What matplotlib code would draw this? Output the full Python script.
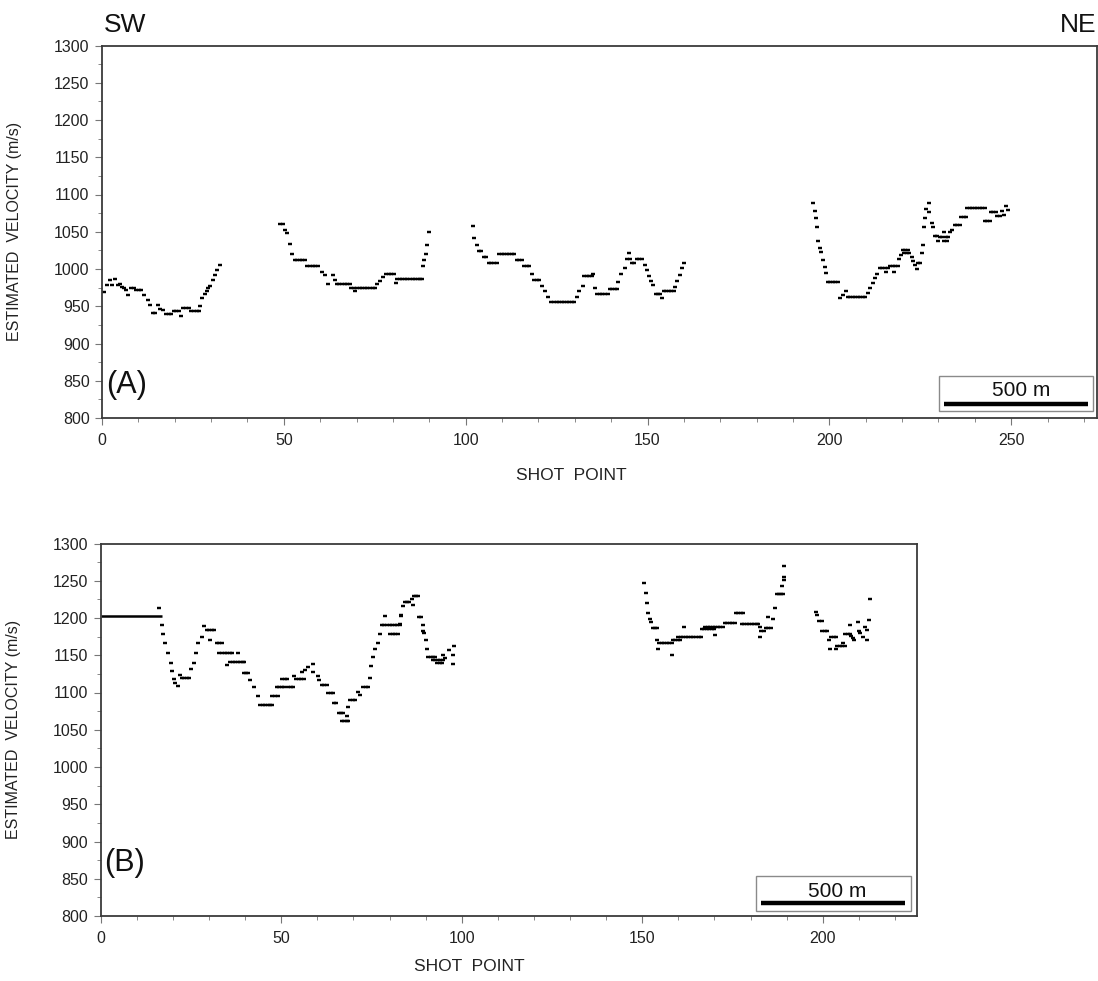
import numpy as np
import matplotlib
matplotlib.use("Agg")
from matplotlib import pyplot as plt
from matplotlib.ticker import MultipleLocator
from matplotlib.patches import Rectangle
import matplotlib.transforms as mtransforms

plt.rcParams['font.family'] = ['Liberation Sans', 'DejaVu Sans']

# ---- data: (shot point, estimated velocity m/s) ----
# panel (A)
seg_a1 = [(0.6, 969), (1.4, 978), (2.2, 985), (2.8, 979), (3.6, 986), (4.3, 979), (5.0, 980),
          (5.4, 976), (6.0, 975), (6.5, 972), (7.2, 965), (8.0, 975), (8.7, 975), (9.4, 972),
          (10.2, 972), (10.8, 972), (11.6, 965), (12.6, 958), (13.2, 952), (13.9, 941),
          (14.6, 941), (15.3, 952), (16.0, 946), (16.8, 945), (17.6, 939), (18.4, 939),
          (19.1, 939), (19.7, 944), (20.4, 944), (21.1, 943), (21.7, 937), (22.4, 948),
          (23.1, 948), (23.8, 948), (24.6, 943), (25.3, 943), (26.0, 943), (26.6, 943),
          (26.9, 950), (27.6, 961), (28.3, 967), (28.8, 970), (29.2, 974), (29.8, 977),
          (30.6, 985), (31.2, 992), (31.7, 999), (32.4, 1005)]
seg_a2 = [(48.9, 1061), (49.7, 1061), (50.3, 1052), (51.0, 1048), (51.7, 1034), (52.3, 1020),
          (53.0, 1012), (53.7, 1012), (54.4, 1012), (55.1, 1012), (55.8, 1012), (56.5, 1004),
          (57.2, 1004), (57.9, 1004), (58.6, 1004), (59.3, 1004), (60.4, 996), (61.3, 992),
          (62.2, 980), (63.5, 992), (64.0, 985), (64.6, 980), (65.3, 980), (66.0, 980),
          (66.7, 980), (67.4, 980), (68.1, 980), (68.6, 975), (69.3, 975), (69.6, 970),
          (70.2, 975), (70.9, 975), (71.6, 975), (72.3, 975), (73.0, 975), (73.7, 975),
          (74.4, 975), (75.0, 975), (75.5, 980), (76.4, 984), (77.3, 989), (78.0, 993),
          (78.8, 993), (79.6, 993), (80.4, 993), (80.8, 981), (81.2, 986), (81.9, 986),
          (82.6, 986), (83.3, 986), (84.0, 986), (84.7, 986), (85.4, 986), (86.1, 986),
          (86.8, 986), (87.5, 986), (88.0, 986), (88.3, 1004), (88.6, 1012), (89.1, 1020),
          (89.4, 1032), (89.8, 1050)]
seg_a3 = [(102.1, 1058), (102.4, 1041), (103.0, 1032), (103.6, 1024), (104.3, 1024),
          (105.0, 1016), (105.7, 1016), (106.4, 1008), (107.1, 1008), (107.8, 1008),
          (108.5, 1008), (109.2, 1020), (109.9, 1020), (110.6, 1020), (111.3, 1020),
          (112.0, 1020), (112.7, 1020), (113.4, 1020), (114.0, 1012), (114.7, 1012),
          (115.4, 1012), (116.1, 1004), (116.8, 1004), (117.5, 1004), (118.3, 993),
          (118.8, 985), (119.5, 985), (120.2, 985), (120.9, 977), (121.8, 970), (122.7, 963),
          (123.6, 956), (124.3, 956), (125.0, 956), (125.7, 956), (126.4, 956), (127.1, 956),
          (127.8, 956), (128.5, 956), (129.2, 956), (129.9, 956), (130.5, 963), (131.3, 970),
          (132.2, 977), (132.6, 990), (133.3, 990), (134.0, 990), (134.7, 990), (135.0, 993),
          (135.5, 975), (136.2, 967), (136.9, 967), (137.6, 967), (138.3, 967), (139.0, 967),
          (139.6, 973), (140.3, 973), (141.0, 973), (141.5, 973), (141.9, 983), (142.8, 993),
          (143.8, 1002), (144.4, 1013), (145.0, 1021), (145.2, 1013), (145.6, 1008),
          (146.3, 1008), (147.0, 1013), (147.7, 1013), (148.4, 1013), (149.3, 1005),
          (149.9, 998), (150.5, 991), (150.9, 984), (151.6, 978), (152.2, 966), (152.9, 966),
          (153.4, 966), (153.9, 961), (154.4, 970), (155.1, 970), (155.8, 970), (156.5, 970),
          (157.2, 970), (157.6, 976), (158.2, 984), (158.9, 992), (159.6, 1001), (160.0, 1008)]
seg_a4 = [(195.6, 1089), (196.0, 1078), (196.3, 1068), (196.5, 1057), (196.9, 1038),
          (197.4, 1028), (197.8, 1023), (198.3, 1012), (198.8, 1003), (199.1, 994),
          (199.5, 982), (200.2, 982), (200.9, 982), (201.6, 982), (202.3, 982), (202.9, 961),
          (203.8, 965), (204.5, 970), (205.0, 962), (205.7, 962), (206.4, 962), (207.1, 962),
          (207.8, 962), (208.5, 962), (209.2, 962), (209.9, 962), (210.7, 968), (211.2, 974),
          (212.1, 981), (212.5, 988), (213.1, 993), (213.9, 1002), (214.6, 1002),
          (215.3, 1002), (215.7, 996), (216.0, 1002), (216.7, 1004), (217.4, 1004),
          (217.7, 996), (218.1, 1004), (218.8, 1004), (219.2, 1013), (219.6, 1019),
          (220.2, 1026), (220.9, 1026), (221.6, 1026), (220.5, 1022), (221.3, 1022),
          (222.0, 1022), (222.6, 1016), (223.0, 1011), (223.5, 1005), (224.0, 1000),
          (224.4, 1008), (225.0, 1008), (225.4, 1021), (225.7, 1032), (226.0, 1056),
          (226.3, 1068), (226.7, 1080), (227.4, 1088), (227.5, 1076), (228.1, 1062),
          (228.6, 1056), (229.0, 1044), (229.6, 1044), (230.0, 1038), (230.4, 1043),
          (231.0, 1043), (231.4, 1038), (231.5, 1049), (232.0, 1043), (232.7, 1043),
          (232.3, 1038), (233.1, 1049), (233.8, 1053), (234.5, 1059), (235.2, 1059),
          (235.9, 1059), (236.2, 1070), (236.9, 1070), (237.6, 1070), (237.9, 1082),
          (238.6, 1082), (239.3, 1082), (240.0, 1082), (240.7, 1082), (241.4, 1082),
          (242.1, 1082), (242.7, 1082), (242.7, 1065), (243.4, 1065), (244.1, 1065),
          (244.4, 1076), (245.1, 1076), (245.8, 1076), (246.2, 1071), (246.9, 1071),
          (247.4, 1078), (248.0, 1072), (248.6, 1085), (249.0, 1079)]

# panel (B)
flat_b_sp = [0.0, 16.9]
flat_b_vel = [1203, 1203]
seg_b1 = [(16.1, 1214), (16.9, 1190), (17.3, 1178), (17.8, 1166), (18.6, 1153), (19.5, 1139),
          (19.8, 1129), (20.4, 1118), (20.7, 1113), (21.3, 1109), (22.0, 1124), (22.5, 1120),
          (23.2, 1120), (23.9, 1120), (24.5, 1120), (25.0, 1131), (25.9, 1139), (26.3, 1153),
          (27.0, 1166), (28.0, 1174), (28.7, 1189), (29.4, 1184), (30.1, 1184), (30.3, 1170),
          (30.8, 1184), (31.5, 1184), (32.1, 1166), (32.8, 1166), (33.5, 1166), (32.9, 1153),
          (33.6, 1153), (34.3, 1153), (34.9, 1137), (35.0, 1153), (35.7, 1153), (36.3, 1153),
          (35.9, 1141), (36.6, 1141), (37.3, 1141), (38.0, 1153), (38.0, 1141), (38.7, 1141),
          (39.4, 1141), (39.8, 1141), (39.6, 1126), (40.3, 1126), (40.9, 1126), (41.4, 1117),
          (42.5, 1107), (43.7, 1095), (44.2, 1083), (44.9, 1083), (45.6, 1083), (46.3, 1083),
          (47.0, 1083), (47.4, 1083), (47.5, 1095), (48.2, 1095), (49.0, 1095), (48.8, 1107),
          (49.5, 1107), (50.2, 1107), (50.9, 1107), (50.3, 1118), (51.0, 1118), (51.7, 1118),
          (52.0, 1107), (52.7, 1107), (53.4, 1107), (53.6, 1122), (54.1, 1118), (54.8, 1118),
          (55.5, 1118), (56.2, 1118), (55.8, 1127), (56.6, 1130), (57.5, 1134), (58.9, 1138),
          (58.9, 1127), (60.1, 1122), (60.5, 1117), (61.2, 1110), (61.9, 1110), (62.6, 1110),
          (63.0, 1099), (63.7, 1099), (64.4, 1099), (64.6, 1086), (65.3, 1086), (65.9, 1072),
          (66.6, 1072), (67.2, 1072), (66.8, 1062), (67.5, 1062), (68.2, 1062), (68.6, 1062),
          (68.2, 1068), (68.6, 1081), (69.1, 1090), (69.8, 1090), (70.5, 1090), (71.4, 1101),
          (71.9, 1097), (72.7, 1108), (73.4, 1108), (74.1, 1108), (74.6, 1119), (74.9, 1135),
          (75.5, 1147), (76.0, 1158), (76.7, 1167), (77.4, 1179), (77.9, 1191), (78.6, 1191),
          (79.3, 1191), (80.0, 1191), (78.8, 1203), (80.2, 1179), (80.9, 1179), (81.6, 1179),
          (82.3, 1179), (80.7, 1191), (81.4, 1191), (82.1, 1191), (82.8, 1191), (83.2, 1203),
          (83.0, 1192), (83.3, 1204), (83.8, 1216), (84.2, 1222), (84.9, 1222), (85.5, 1222),
          (86.3, 1225), (86.8, 1229), (87.3, 1230), (87.8, 1230), (86.6, 1217), (88.1, 1202),
          (88.7, 1202), (89.2, 1190), (89.4, 1182), (89.6, 1180), (90.1, 1170), (90.4, 1158),
          (90.7, 1147), (91.4, 1147), (92.1, 1147), (92.6, 1147), (92.0, 1144), (92.7, 1144),
          (93.4, 1144), (94.1, 1144), (94.9, 1144), (93.2, 1139), (93.9, 1139), (94.6, 1139),
          (94.9, 1150), (95.5, 1146), (96.6, 1157), (97.5, 1150), (97.7, 1138), (97.9, 1162)]
seg_b2 = [(150.5, 1247), (151.0, 1233), (151.4, 1220), (151.7, 1207), (152.2, 1198),
          (152.5, 1194), (152.9, 1186), (153.6, 1186), (154.2, 1186), (154.2, 1170),
          (154.5, 1158), (154.7, 1166), (155.4, 1166), (156.1, 1166), (156.8, 1166),
          (157.5, 1166), (158.2, 1166), (158.2, 1150), (158.4, 1170), (159.1, 1170),
          (159.8, 1170), (160.5, 1170), (160.0, 1174), (160.7, 1174), (161.4, 1174),
          (161.7, 1188), (162.1, 1174), (162.8, 1174), (163.5, 1174), (164.2, 1174),
          (164.9, 1174), (165.6, 1174), (166.3, 1174), (166.5, 1185), (167.2, 1185),
          (167.9, 1185), (168.6, 1185), (169.3, 1185), (170.0, 1185), (170.2, 1177),
          (167.4, 1188), (168.1, 1188), (168.8, 1188), (169.5, 1188), (170.2, 1188),
          (170.9, 1188), (171.6, 1188), (172.3, 1188), (172.9, 1193), (173.6, 1193),
          (174.3, 1193), (175.0, 1193), (175.7, 1193), (175.9, 1207), (176.6, 1207),
          (177.3, 1207), (178.0, 1207), (177.6, 1192), (178.3, 1192), (179.0, 1192),
          (179.7, 1192), (180.4, 1192), (181.1, 1192), (181.8, 1192), (182.2, 1192),
          (182.6, 1188), (182.6, 1174), (183.0, 1182), (183.7, 1182), (184.2, 1186),
          (184.9, 1186), (185.6, 1186), (184.9, 1202), (186.1, 1198), (186.8, 1214),
          (187.2, 1232), (187.8, 1232), (188.4, 1232), (188.9, 1232), (188.6, 1243),
          (189.3, 1255), (189.4, 1251), (189.3, 1270)]
seg_b3 = [(198.1, 1208), (198.4, 1204), (199.0, 1196), (199.7, 1196), (199.9, 1183),
          (200.5, 1183), (201.2, 1183), (201.8, 1170), (202.0, 1158), (202.3, 1175),
          (203.0, 1175), (203.7, 1175), (203.7, 1158), (204.0, 1163), (204.7, 1163),
          (205.4, 1163), (206.1, 1163), (205.7, 1166), (206.3, 1178), (207.0, 1178),
          (207.6, 1178), (207.6, 1191), (207.7, 1176), (208.3, 1173), (208.6, 1170),
          (209.9, 1195), (210.0, 1183), (210.3, 1180), (211.1, 1175), (211.7, 1188),
          (212.2, 1170), (212.4, 1184), (212.9, 1197), (213.1, 1225)]

# 500 m scale bars, in shot points
scale_a = (231.5, 271.1)
scale_b = (182.8, 222.8)

W, H = 1098, 981
fig = plt.figure(figsize=(W / 100, H / 100), dpi=100)

# axes boxes in pixels: left, top, right, bottom
ax_a = fig.add_axes([102 / W, 1 - 418 / H, 995 / W, 372.5 / H])
ax_b = fig.add_axes([100.7 / W, 1 - 916 / H, 816.6 / W, 372.5 / H])

spine_col = '#3a3a3a'


def style_axes(ax, xmax):
    ax.set_xlim(0, xmax)
    ax.set_ylim(800, 1300)
    ax.xaxis.set_major_locator(MultipleLocator(50))
    ax.xaxis.set_minor_locator(MultipleLocator(10))
    ax.yaxis.set_major_locator(MultipleLocator(50))
    ax.yaxis.set_minor_locator(MultipleLocator(25))
    for s in ax.spines.values():
        s.set_color(spine_col)
        s.set_linewidth(1.3)
    ax.tick_params(which='major', direction='out', length=5, width=0.8,
                   color='#777777', labelsize=11.5, labelcolor='#222222')
    ax.tick_params(which='minor', direction='out', length=3, width=0.7, color='#888888')
    ax.tick_params(axis='x', which='major', pad=6)
    ax.tick_params(axis='y', which='major', pad=4)
    ax.set_ylabel('ESTIMATED  VELOCITY (m/s)', fontsize=11.5, color='#222222')
    ax.set_xlabel('SHOT  POINT', fontsize=12.5, color='#222222')


def draw_points(ax, seg):
    # each sample is a short horizontal dash, adjacent samples merge into runs
    arr = np.array(seg)
    ax.plot(arr[:, 0], arr[:, 1], ls='none', marker='_', markersize=2.9,
            markeredgewidth=1.75, color='black')


def scale_box(ax, box, bar_sp, bar_y, text_xy):
    ax.add_patch(Rectangle((box[0], box[1]), box[2] - box[0], box[3] - box[1],
                           transform=ax.transAxes, facecolor='white',
                           edgecolor='#8a8a8a', linewidth=1.0, zorder=4))
    trans = mtransforms.blended_transform_factory(ax.transData, ax.transAxes)
    ax.plot(bar_sp, [bar_y, bar_y], transform=trans, color='black', lw=3.2,
            solid_capstyle='butt', zorder=5)
    ax.text(text_xy[0], text_xy[1], '500 m', transform=ax.transAxes, ha='center',
            va='center', fontsize=15, color='#111111', zorder=6)


# panel A
style_axes(ax_a, 273.6)
for seg in (seg_a1, seg_a2, seg_a3, seg_a4):
    draw_points(ax_a, seg)
ax_a.xaxis.set_label_coords(0.472, -0.135)
ax_a.yaxis.set_label_coords(-0.08, 0.5)
ax_a.text(0.004, 0.089, '(A)', transform=ax_a.transAxes, ha='left', va='center',
          fontsize=22, color='#111111')
scale_box(ax_a, (0.8415, 0.0196, 0.9963, 0.1128), scale_a, 0.0376, (0.924, 0.0733))

# panel B
style_axes(ax_b, 226.2)
ax_b.plot(flat_b_sp, flat_b_vel, color='black', lw=1.8, solid_capstyle='butt')
for seg in (seg_b1, seg_b2, seg_b3):
    draw_points(ax_b, seg)
ax_b.xaxis.set_label_coords(0.452, -0.115)
ax_b.yaxis.set_label_coords(-0.097, 0.5)
ax_b.text(0.004, 0.142, '(B)', transform=ax_b.transAxes, ha='left', va='center',
          fontsize=22, color='#111111')
scale_box(ax_b, (0.8028, 0.0142, 0.9926, 0.1074), scale_b, 0.034, (0.9016, 0.0652))

# orientation labels
fig.text(104 / W, 1 - 25 / H, 'SW', ha='left', va='center', fontsize=19, color='#111111')
fig.text(1097 / W, 1 - 25 / H, 'NE', ha='right', va='center', fontsize=19, color='#111111')

fig.savefig('out.png', dpi=100)
